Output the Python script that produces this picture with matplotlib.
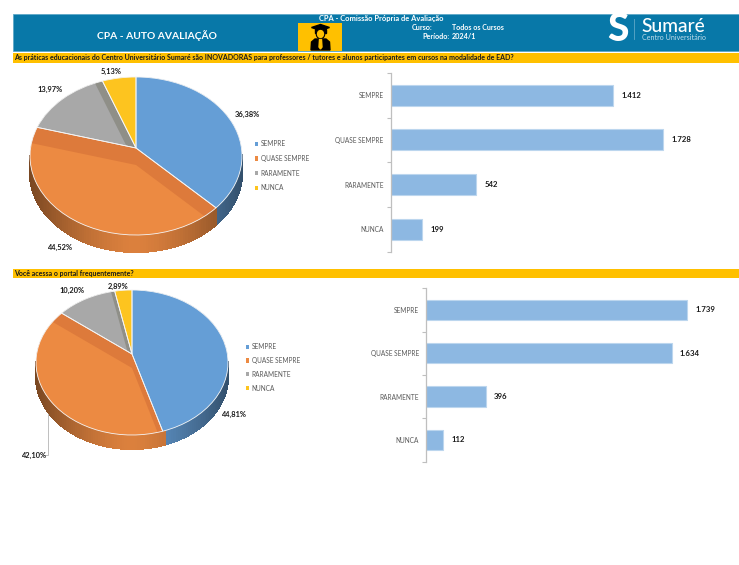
import numpy as np
import matplotlib
matplotlib.use('Agg')
import matplotlib.pyplot as plt
from matplotlib.patches import Ellipse, Rectangle
from matplotlib.colors import to_rgb

plt.rcParams['font.family'] = ['Lato', 'DejaVu Sans']

W, H = 739, 565

categories = ['SEMPRE', 'QUASE SEMPRE', 'RARAMENTE', 'NUNCA']
inovadoras_values = [1412, 1728, 542, 199]
portal_values = [1739, 1634, 396, 112]

question_1 = ('As práticas educacionais do Centro Universitário Sumaré são INOVADORAS '
              'para professores / tutores e alunos participantes em cursos na modalidade de EAD?')
question_2 = 'Você acessa o portal frequentemente?'

top_colors = ['#659ED6', '#EC8A42', '#A8A8A8', '#FDC41F']
wall_colors = ['#659ED6', '#DD7A3B', '#8F8F88', '#FDC41F']
bar_color = '#8DB8E2'
grey_text = '#595959'
header_blue = '#0878A8'
band_yellow = '#FFC000'


def px_axes(fig, x0, y0, x1, y1):
    # caixa em pixels, y a contar de cima
    return fig.add_axes([x0 / W, 1 - y1 / H, (x1 - x0) / W, (y1 - y0) / H])


def move_wedge(wedge, apex, scale=1.0, dy=0.0):
    v = wedge.get_path().vertices
    v[np.hypot(v[:, 0], v[:, 1]) < 0.01, 1] = apex
    v[:, 0] *= scale
    v[:, 1] = apex + (v[:, 1] - apex) * scale + dy


def draw_pie(fig, ov, values, cx, cy, rx, ry, depth, apex_up, labels_xy, legend_xy, spacing):
    ax = px_axes(fig, cx - 1.5 * rx, cy - 1.5 * ry, cx + 1.5 * rx, cy + 1.5 * ry)
    apex = apex_up / ry
    d = depth / ry

    base = ax.pie(values, colors=wall_colors, startangle=90, counterclock=False,
                  wedgeprops={'zorder': 3, 'linewidth': 0})[0]
    light = ax.pie(values, colors=top_colors, startangle=90, counterclock=False,
                   wedgeprops={'zorder': 4, 'linewidth': 0})[0]
    outline = ax.pie(values, colors=['none'] * 4, startangle=90, counterclock=False,
                     wedgeprops={'zorder': 5, 'linewidth': 0.6, 'edgecolor': '#F4F4F4'})[0]

    for b, l, o in zip(base, light, outline):
        move_wedge(b, apex)
        move_wedge(o, apex)
        move_wedge(l, apex, scale=1.6, dy=-d)
        l.set_clip_path(b)
        l.set_clip_on(True)

    # parede da frente, sombreada
    for b, color in zip(base, top_colors):
        angles = np.radians(np.arange(b.theta1, b.theta2 + 1.5, 1.5))
        rgb = np.array(to_rgb(color))
        for a0, a1 in zip(angles[:-1], angles[1:]):
            if np.sin(a0) > 0 and np.sin(a1) > 0:
                continue
            x0, x1 = np.cos(a0), np.cos(a1)
            y0, y1 = np.sin(a0), np.sin(a1)
            shade = 0.93 - 0.42 * abs((x0 + x1) / 2) ** 1.5
            ax.fill([x0, x1, x1, x0], [y0, y1, y1 - d, y0 - d], color=tuple(rgb * shade),
                    linewidth=0.8, antialiased=False, zorder=1)

    ax.set_aspect('auto')
    ax.set_xlim(-1.5, 1.5)
    ax.set_ylim(-1.5, 1.5)

    total = sum(values)
    for v, (x, y) in zip(values, labels_xy):
        txt = f'{100 * v / total:.2f}%'.replace('.', ',')
        ov.text(x, y, txt, fontsize=5.4, fontweight='bold', color='#1a1a1a', ha='center', va='center')

    leg = ax.legend(light, categories, loc='upper left', bbox_to_anchor=legend_xy,
                    bbox_transform=ov.transData, frameon=False, fontsize=4.7,
                    labelcolor=grey_text, handlelength=0.6, handleheight=0.6,
                    handletextpad=0.35, labelspacing=spacing, borderaxespad=0, borderpad=0)
    for h in leg.get_patches():
        h.set_clip_on(False)


def draw_bars(fig, values, x0, y0, x1, y1, xmax):
    ax = px_axes(fig, x0, y0, x1, y1)
    pos = np.arange(len(values))
    ax.barh(pos, values, height=0.47, color=bar_color, edgecolor='#BCD6EE', linewidth=0.8)
    ax.set_xlim(0, xmax)
    ax.set_ylim(3.5, -0.5)
    ax.set_yticks(pos)
    ax.set_yticklabels(categories, fontsize=4.7, color=grey_text)
    ax.set_yticks(np.arange(-0.5, 4), minor=True)
    ax.tick_params(axis='y', which='major', length=0, pad=5)
    ax.tick_params(axis='y', which='minor', length=3, width=0.8, color='#BFBFBF')
    ax.set_xticks([])
    for s in ['top', 'right', 'bottom']:
        ax.spines[s].set_visible(False)
    ax.spines['left'].set_color('#BFBFBF')
    ax.spines['left'].set_linewidth(0.9)
    ax.patch.set_alpha(0)
    for p, v in zip(pos, values):
        ax.annotate(f'{v:,}'.replace(',', '.'), (v, p), xytext=(6, 0), textcoords='offset points',
                    fontsize=5.6, fontweight='bold', color='#1a1a1a', va='center')


def draw_header(ov):
    ov.add_patch(Rectangle((12.5, 13.5), 726.5, 37, facecolor=header_blue, edgecolor='#5FA8C8', linewidth=0.6))
    ov.add_patch(Rectangle((12.5, 52.8), 726.5, 9.8, facecolor=band_yellow, edgecolor='none'))
    ov.add_patch(Rectangle((12.5, 269.2), 726.5, 9, facecolor=band_yellow, edgecolor='none'))

    ov.text(156.5, 35.8, 'CPA - AUTO AVALIAÇÃO', fontsize=7.4, fontweight='bold', color='white',
            ha='center', va='center')
    ov.text(381.5, 18, 'CPA - Comissão Própria de Avaliação', fontsize=5.4, fontweight='bold',
            color='white', ha='center', va='center')
    ov.text(411.8, 27.6, 'Curso:', fontsize=5.2, fontweight='bold', color='white', va='center')
    ov.text(451.7, 27.6, 'Todos os Cursos', fontsize=5.1, fontweight='bold', color='white', va='center')
    ov.text(422.7, 36.8, 'Período:', fontsize=5.2, fontweight='bold', color='white', va='center')
    ov.text(452, 36.8, '2024/1', fontsize=5.2, fontweight='bold', color='white', va='center')

    ov.text(14.5, 57.7, question_1, fontsize=5.07, fontweight='bold', color='#1a1a1a', va='center')
    ov.text(14.5, 273.8, question_2, fontsize=5.07, fontweight='bold', color='#1a1a1a', va='center')

    # icone do formando
    ov.add_patch(Rectangle((298, 22.5), 44, 28, facecolor=band_yellow, edgecolor='none'))
    ov.fill([311.5, 320.5, 329.5, 320.5], [27.5, 24.5, 27.5, 30.5], color='black')
    ov.fill([315, 326, 326, 315], [28.5, 28.5, 33, 33], color='black')
    ov.add_patch(Ellipse((320.5, 34), 8.5, 9.5, facecolor=band_yellow, edgecolor='black', linewidth=0.8))
    ov.fill([311, 311.5, 315, 326, 329.5, 330, 330, 311], [50, 42, 39, 39, 42, 50, 50, 50], color='black')
    ov.fill([319.5, 321.5, 322, 320.5, 319], [39.5, 39.5, 47, 49, 47], color=band_yellow)

    # logo
    ov.text(618, 29.5, 'S', fontsize=28, fontweight='black', color='white', ha='center', va='center')
    ov.plot([634, 634], [19, 39], color='#5FA8C8', linewidth=0.6)
    ov.text(641.5, 32.5, 'Sumaré', fontsize=13.8, color='white', va='baseline', fontweight='medium')
    ov.text(642, 37, 'Centro Universitário', fontsize=5.1, color='#BFDCEA', va='center')


def main():
    fig = plt.figure(figsize=(W / 100, H / 100), dpi=100)
    ov = fig.add_axes([0, 0, 1, 1])
    ov.set_xlim(0, W)
    ov.set_ylim(H, 0)
    ov.axis('off')

    draw_header(ov)

    # fio do rotulo 42,10%
    ov.plot([48, 48, 43], [412, 455, 455], color='#BFBFBF', linewidth=0.7)

    draw_pie(fig, ov, inovadoras_values, 136, 156, 106, 79, 17, 8,
             [(247, 114), (60, 247), (50, 89), (111, 71)], (254.5, 140), 1.2)
    draw_pie(fig, ov, portal_values, 132, 362.5, 96, 72.5, 14, 8.5,
             [(234, 414), (34, 455), (72, 290), (118, 286)], (245.5, 343), 1.05)

    draw_bars(fig, inovadoras_values, 390.5, 73, 700, 251.5, 309.5 / 0.1578)
    draw_bars(fig, portal_values, 426, 288.3, 720, 461.5, 294 / 0.1503)

    fig.savefig('out.png', dpi=100)


if __name__ == "__main__":
    main()
